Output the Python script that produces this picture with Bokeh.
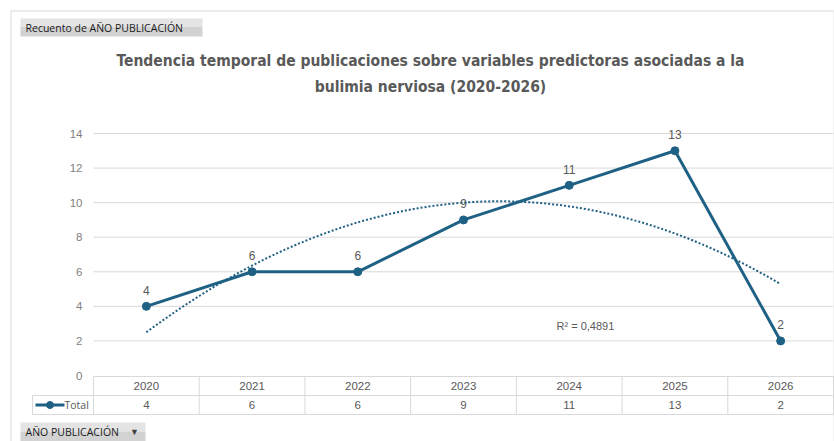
import numpy as np
from bokeh.plotting import figure
from bokeh.models import Range1d, ColumnDataSource
from bokeh.core.properties import value
from bokeh.embed import file_html
from bokeh.resources import INLINE

# ---- data ----
years = ["2020", "2021", "2022", "2023", "2024", "2025", "2026"]
counts = [4, 6, 6, 9, 11, 13, 2]
y_ticks = [0, 2, 4, 6, 8, 10, 12, 14]
title_lines = ["Tendencia temporal de publicaciones sobre variables predictoras asociadas a la",
               "bulimia nerviosa (2020-2026)"]
series_name = "Total"
field_button = "Recuento de AÑO PUBLICACIÓN"
axis_button = "AÑO PUBLICACIÓN"
r2_text = "R² = 0,4891"

# ---- page-pixel to data mapping (layout) ----
PX_LEFT, PX_RIGHT = 93.0, 833.0      # plot area horizontal extent (px)
PY_ZERO, PY_TOP = 375.0, 133.0       # y=0 and y=14 (px)
ncat = len(years)
sx = (PX_RIGHT - PX_LEFT) / ncat
sy = (PY_ZERO - PY_TOP) / 14.0

def xd(px):
    return (px - PX_LEFT) / sx + 0.5

def yd(py):
    return (PY_ZERO - py) / sy

W, H = 834, 441
p = figure(width=W, height=H, output_backend="svg", toolbar_location=None,
           x_range=Range1d(xd(0), xd(W)), y_range=Range1d(yd(H), yd(0)),
           x_axis_type=None, y_axis_type=None, min_border=0)
p.outline_line_color = None
p.grid.visible = False
p.background_fill_color = "white"
p.border_fill_color = "white"

FONT = value("Liberation Sans")
GRID = "#d9d9d9"
TXT = "#595959"
LINE = "#1f6184"

# outer chart border
p.segment(x0=[xd(10.5), xd(10.5)], y0=[yd(10.5), yd(10.5)],
          x1=[xd(10.5), xd(833.5)], y1=[yd(441), yd(10.5)],
          line_color="#d9d9d9", line_width=1)
p.segment(x0=[xd(833.5)], y0=[yd(10.5)], x1=[xd(833.5)], y1=[yd(441)],
          line_color="#e6e6e6", line_width=1)

# field button
p.quad(left=[xd(20)], right=[xd(202)], top=[yd(18)], bottom=[yd(26.5)],
       fill_color="#e4e4e4", line_color=None)
p.quad(left=[xd(20)], right=[xd(202)], top=[yd(26.5)], bottom=[yd(36)],
       fill_color="#d2d2d2", line_color=None)
p.text(x=[xd(25)], y=[yd(27)], text=[field_button], text_font=value("Open Sans"),
       text_font_size="10.5px", text_color="#1a1a1a", text_baseline="middle",
       text_align="left")

# title
p.text(x=[xd(430), xd(430)], y=[yd(60), yd(86)], text=title_lines,
       text_font=value("DejaVu Sans Condensed"), text_font_style="bold",
       text_font_size="15.5px", text_color=TXT, text_align="center",
       text_baseline="middle")

# gridlines
gt = [t for t in y_ticks if t > 0]
p.segment(x0=[0.5] * len(gt), x1=[ncat + 0.5] * len(gt), y0=gt, y1=gt,
          line_color=GRID, line_width=1)

# y tick labels
p.text(x=[xd(82)] * len(y_ticks), y=y_ticks, text=[str(t) for t in y_ticks],
       text_font=FONT, text_font_size="11.5px", text_color="#7f7f7f",
       text_align="right", text_baseline="middle")

# data table
xc = np.arange(1, ncat + 1)
row_top, row_mid, row_bot = yd(376), yd(395), yd(414)
tbl_left = xd(32)
p.segment(x0=[0.5, tbl_left, tbl_left], x1=[ncat + 0.5] * 3,
          y0=[row_top, row_mid, row_bot], y1=[row_top, row_mid, row_bot],
          line_color=GRID, line_width=1)
vx = list(np.arange(0.5, ncat + 1.0, 1.0))
p.segment(x0=vx, x1=vx, y0=[row_top] * len(vx), y1=[row_bot] * len(vx),
          line_color=GRID, line_width=1)
p.segment(x0=[tbl_left], x1=[tbl_left], y0=[row_mid], y1=[row_bot],
          line_color=GRID, line_width=1)
p.text(x=xc, y=[(row_top + row_mid) / 2] * ncat, text=years, text_font=FONT,
       text_font_size="11.5px", text_color=TXT, text_align="center",
       text_baseline="middle")
p.text(x=xc, y=[(row_mid + row_bot) / 2] * ncat, text=[str(c) for c in counts],
       text_font=FONT, text_font_size="11.5px", text_color=TXT, text_align="center",
       text_baseline="middle")
ym = (row_mid + row_bot) / 2
p.line(x=[xd(35), xd(64)], y=[ym, ym], line_color=LINE, line_width=3)
p.scatter(x=[xd(49.5)], y=[ym], size=7, fill_color=LINE, line_color=LINE)
p.text(x=[xd(64)], y=[ym], text=[series_name], text_font=value("Open Sans"),
       text_font_size="10.5px", text_color=TXT, text_align="left",
       text_baseline="middle")

# polynomial trendline (order 2) fitted to the data
coef = np.polyfit(xc, counts, 2)
xt = np.linspace(1, ncat, 120)
p.line(x=xt, y=np.polyval(coef, xt), line_color=LINE, line_width=2,
       line_dash="2 2")

# series line
src = ColumnDataSource(dict(x=xc, y=counts, lab=[str(c) for c in counts]))
p.line(x="x", y="y", source=src, line_color=LINE, line_width=3)
p.scatter(x="x", y="y", source=src, size=8, fill_color=LINE, line_color=LINE)
p.text(x="x", y="y", text="lab", source=src, text_font=FONT, text_font_size="12px",
       text_color=TXT, text_align="center", text_baseline="middle", y_offset=-16)

# R² label
p.text(x=[xd(556)], y=[yd(325)], text=[r2_text], text_font=FONT,
       text_font_size="11px", text_color=TXT, text_align="left",
       text_baseline="middle")

# axis field button
p.quad(left=[xd(20)], right=[xd(145)], top=[yd(422)], bottom=[yd(431)],
       fill_color="#e4e4e4", line_color=None)
p.quad(left=[xd(20)], right=[xd(145)], top=[yd(431)], bottom=[yd(441)],
       fill_color="#d2d2d2", line_color=None)
p.text(x=[xd(25)], y=[yd(431)], text=[axis_button], text_font=value("Open Sans"),
       text_font_size="10.5px", text_color="#1a1a1a", text_baseline="middle",
       text_align="left")
p.text(x=[xd(134)], y=[yd(431)], text=["▼"], text_font=FONT,
       text_font_size="9px", text_color="#404040", text_baseline="middle",
       text_align="center")

open("out.html", "w").write(file_html(p, INLINE))
